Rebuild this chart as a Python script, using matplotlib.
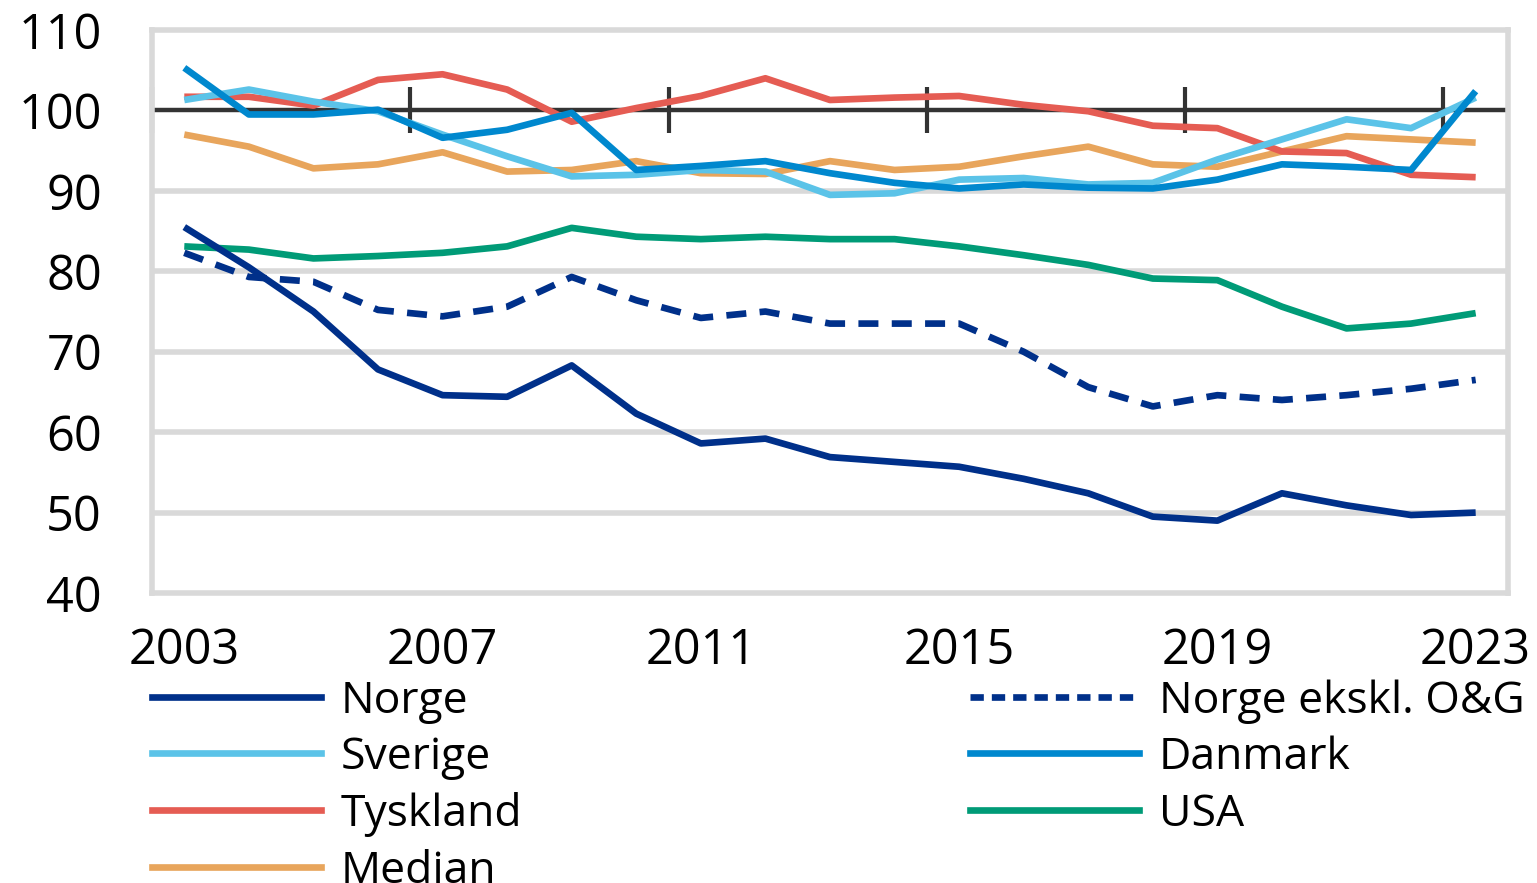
import matplotlib.pyplot as plt
from matplotlib.lines import Line2D

# Data
years = list(range(2003, 2024))
norge = [85.5, 80.5, 75.0, 67.8, 64.6, 64.4, 68.3, 62.3, 58.6, 59.2, 56.9,
         56.3, 55.7, 54.2, 52.4, 49.5, 49.0, 52.4, 50.9, 49.7, 50.0]
norge_eks = [82.3, 79.3, 78.7, 75.2, 74.4, 75.6, 79.3, 76.4, 74.2, 75.0, 73.5,
             73.5, 73.5, 70.0, 65.6, 63.2, 64.6, 64.0, 64.6, 65.4, 66.5]
sverige = [101.3, 102.6, 101.1, 99.9, 97.0, 94.3, 91.8, 92.0, 92.6, 92.4, 89.5,
           89.7, 91.4, 91.6, 90.8, 91.0, 93.9, 96.4, 98.9, 97.8, 101.6]
danmark = [105.3, 99.5, 99.5, 100.1, 96.6, 97.6, 99.7, 92.6, 93.1, 93.7, 92.2,
           91.0, 90.3, 90.8, 90.4, 90.3, 91.4, 93.3, 93.0, 92.6, 102.4]
tyskland = [101.7, 101.7, 100.6, 103.8, 104.5, 102.6, 98.6, 100.3, 101.8, 104.0, 101.3,
            101.6, 101.8, 100.7, 99.9, 98.1, 97.8, 94.9, 94.7, 92.0, 91.7]
usa = [83.1, 82.7, 81.6, 81.9, 82.3, 83.1, 85.4, 84.3, 84.0, 84.3, 84.0,
       84.0, 83.1, 82.0, 80.8, 79.1, 78.9, 75.6, 72.9, 73.5, 74.8]
median = [97.0, 95.5, 92.8, 93.3, 94.8, 92.4, 92.6, 93.7, 92.2, 92.1, 93.7,
          92.6, 93.0, 94.3, 95.5, 93.3, 93.0, 94.9, 96.8, 96.4, 96.0]
xticks = [2003, 2007, 2011, 2015, 2019, 2023]
yticks = [40, 50, 60, 70, 80, 90, 100, 110]

plt.rcParams['font.family'] = ['Open Sans', 'DejaVu Sans']

fig = plt.figure(figsize=(15.37, 8.83), dpi=100)
ax = fig.add_axes([0.0989, 0.3284, 0.8822, 0.6376])

grid_c = '#D9D9D9'
lw = 4.8

for y in yticks[1:-1]:
    ax.axhline(y, color=grid_c, lw=4, zorder=1)

# referanselinje ved 100 med delestreker mellom kategoriene
ax.axhline(100, color='#333333', lw=3, zorder=2)
ax.plot([x - 0.5 for x in xticks], [100] * len(xticks), ls='none', marker='|',
        ms=33, mew=3, color='#333333', zorder=2, clip_on=False)

series = [
    ('Median', median, '#E8A55C', '-'),
    ('USA', usa, '#009B77', '-'),
    ('Tyskland', tyskland, '#E55C53', '-'),
    ('Sverige', sverige, '#5BC3E8', '-'),
    ('Danmark', danmark, '#0088CE', '-'),
    ('Norge ekskl. O&G', norge_eks, '#00308A', '--'),
    ('Norge', norge, '#00308A', '-'),
]
handles = {}
for name, vals, col, ls in series:
    kw = dict(dashes=(3, 2)) if ls == '--' else {}
    ln, = ax.plot(years, vals, color=col, lw=lw, zorder=3, solid_capstyle='butt', **kw)
    handles[name] = ln

ax.set_xlim(2002.5, 2023.5)
ax.set_ylim(40, 110)
ax.set_xticks(xticks)
ax.set_yticks(yticks)
ax.tick_params(axis='both', length=0, labelsize=35, colors='black')
ax.tick_params(axis='y', pad=36)
ax.tick_params(axis='x', pad=24)
for s in ax.spines.values():
    s.set_color(grid_c)
    s.set_linewidth(4)


def make_handle(n):
    h = handles[n]
    if n == 'Norge ekskl. O&G':
        return Line2D([], [], color=h.get_color(), lw=lw, dashes=(2, 1.2))
    return Line2D([], [], color=h.get_color(), lw=lw)


left = ['Norge', 'Sverige', 'Tyskland', 'Median']
right = ['Norge ekskl. O&G', 'Danmark', 'USA']
leg_kw = dict(loc='upper left', frameon=False, fontsize=32, handlelength=3.8,
              handletextpad=0.45, labelspacing=0.27, borderaxespad=0, borderpad=0)
l1 = fig.legend([make_handle(n) for n in left], left,
                bbox_to_anchor=(0.0989, 0.231), **leg_kw)
l2 = fig.legend([make_handle(n) for n in right], right,
                bbox_to_anchor=(0.631, 0.231), **leg_kw)

fig.savefig('out.png', dpi=100)
